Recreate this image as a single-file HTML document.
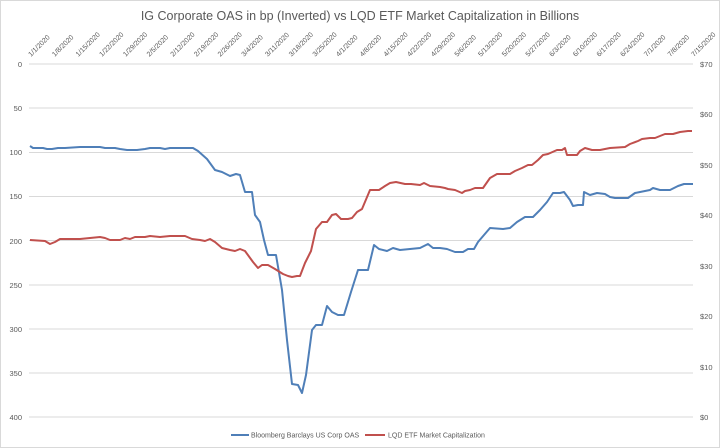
<!DOCTYPE html>
<html><head><meta charset="utf-8"><style>body{margin:0;background:#fff}svg{display:block;font-family:"Liberation Sans",sans-serif}</style></head><body>
<svg width="720" height="448" viewBox="0 0 720 448">
<rect x="0.5" y="0.5" width="719" height="447" fill="#fff" stroke="#d9d9d9"/>
<text x="360" y="20" text-anchor="middle" font-size="12.5" fill="#595959">IG Corporate OAS in bp (Inverted) vs LQD ETF Market Capitalization in Billions</text>
<g stroke="#d9d9d9" stroke-width="1">
<line x1="29" x2="693" y1="64" y2="64"/><line x1="29" x2="693" y1="108" y2="108"/><line x1="29" x2="693" y1="152.5" y2="152.5"/><line x1="29" x2="693" y1="196.5" y2="196.5"/><line x1="29" x2="693" y1="240.5" y2="240.5"/><line x1="29" x2="693" y1="285" y2="285"/><line x1="29" x2="693" y1="329" y2="329"/><line x1="29" x2="693" y1="373" y2="373"/><line x1="29" x2="693" y1="417" y2="417"/>
</g>
<g font-size="7.5" fill="#595959" text-anchor="end">
<text x="22" y="67">0</text><text x="22" y="111">50</text><text x="22" y="155">100</text><text x="22" y="199">150</text><text x="22" y="244">200</text><text x="22" y="288">250</text><text x="22" y="332">300</text><text x="22" y="376">350</text><text x="22" y="420">400</text>
</g>
<g font-size="7.5" fill="#595959">
<text x="700" y="67">$70</text><text x="700" y="117">$60</text><text x="700" y="168">$50</text><text x="700" y="218">$40</text><text x="700" y="269">$30</text><text x="700" y="319">$20</text><text x="700" y="370">$10</text><text x="700" y="420">$0</text>
</g>
<g font-size="7" fill="#595959">
<text transform="translate(31,57) rotate(-45)">1/1/2020</text>
<text transform="translate(54.7,57) rotate(-45)">1/8/2020</text>
<text transform="translate(78.4,57) rotate(-45)">1/15/2020</text>
<text transform="translate(102,57) rotate(-45)">1/22/2020</text>
<text transform="translate(125.7,57) rotate(-45)">1/29/2020</text>
<text transform="translate(149.4,57) rotate(-45)">2/5/2020</text>
<text transform="translate(173.1,57) rotate(-45)">2/12/2020</text>
<text transform="translate(196.8,57) rotate(-45)">2/19/2020</text>
<text transform="translate(220.4,57) rotate(-45)">2/26/2020</text>
<text transform="translate(244.1,57) rotate(-45)">3/4/2020</text>
<text transform="translate(267.8,57) rotate(-45)">3/11/2020</text>
<text transform="translate(291.5,57) rotate(-45)">3/18/2020</text>
<text transform="translate(315.2,57) rotate(-45)">3/25/2020</text>
<text transform="translate(338.8,57) rotate(-45)">4/1/2020</text>
<text transform="translate(362.5,57) rotate(-45)">4/8/2020</text>
<text transform="translate(386.2,57) rotate(-45)">4/15/2020</text>
<text transform="translate(409.9,57) rotate(-45)">4/22/2020</text>
<text transform="translate(433.6,57) rotate(-45)">4/29/2020</text>
<text transform="translate(457.2,57) rotate(-45)">5/6/2020</text>
<text transform="translate(480.9,57) rotate(-45)">5/13/2020</text>
<text transform="translate(504.6,57) rotate(-45)">5/20/2020</text>
<text transform="translate(528.3,57) rotate(-45)">5/27/2020</text>
<text transform="translate(552,57) rotate(-45)">6/3/2020</text>
<text transform="translate(575.6,57) rotate(-45)">6/10/2020</text>
<text transform="translate(599.3,57) rotate(-45)">6/17/2020</text>
<text transform="translate(623,57) rotate(-45)">6/24/2020</text>
<text transform="translate(646.7,57) rotate(-45)">7/1/2020</text>
<text transform="translate(670.4,57) rotate(-45)">7/8/2020</text>
<text transform="translate(694,57) rotate(-45)">7/15/2020</text>
</g>
<polyline fill="none" stroke="#4f7fb8" stroke-width="2" stroke-linejoin="round" points="30,146 33,148 37,148 43,148 47,149 52,149 58,148 65,148 80,147 85,147 100,147 105,148 115,148 120,149 127,150 133,150 137,150 145,149 150,148 160,148 165,149 170,148 193,148 198,151 207,159 215,170 222,172 230,176 236,174 240,175 245,192 252,192 255,215 260,222 264,240 268,255 276,255 282,290 287,340 292,384 298,385 302,393 306,375 312,330 316,325 322,325 327,306 332,312 338,315 344,315 351,292 358,270 368,270 374,245 379,249 387,251 393,248 400,250 420,248 428,244 433,248 440,248 447,249 455,252 463,252 468,249 474,249 478,242 490,228 503,229 510,228 517,222 525,217 533,217 540,210 547,202 553,193 560,193 564,192 570,200 573,206 578,205 583,205 584,192 590,195 597,193 605,194 610,197 615,198 628,198 635,193 645,191 650,190 653,188 660,190 670,190 678,186 684,184 693,184"/>
<polyline fill="none" stroke="#c0504d" stroke-width="2" stroke-linejoin="round" points="30,240 45,241 50,244 55,242 60,239 80,239 90,238 100,237 105,238 110,240 120,240 125,238 130,239 135,237 145,237 150,236 160,237 170,236 185,236 192,239 200,240 205,241 210,239 215,242 222,248 230,250 235,251 240,249 245,251 253,262 258,268 262,265 268,265 275,269 283,274 288,276 292,277 297,276 300,276 305,263 311,251 316,229 322,222 327,222 332,215 336,214 341,219 348,219 352,218 357,212 362,209 370,190 375,190 379,190 385,186 390,183 396,182 405,184 411,184 420,185 424,183 430,186 440,187 445,188 448,189 455,190 462,193 465,191 470,190 475,188 483,188 490,178 497,174 510,174 515,171 522,168 528,165 532,165 538,160 543,155 548,154 557,150 562,150 565,148 567,155 577,155 580,151 585,148 592,150 600,150 610,148 625,147 630,144 638,141 642,139 650,138 655,138 660,136 665,134 673,134 680,132 688,131 692,131"/>
<line x1="231" x2="249" y1="435" y2="435" stroke="#4f7fb8" stroke-width="2"/>
<text x="251" y="437.5" font-size="7" fill="#595959">Bloomberg Barclays US Corp OAS</text>
<line x1="365" x2="385" y1="435" y2="435" stroke="#c0504d" stroke-width="2"/>
<text x="388" y="437.5" font-size="7" fill="#595959">LQD ETF Market Capitalization</text>
</svg>
</body></html>
